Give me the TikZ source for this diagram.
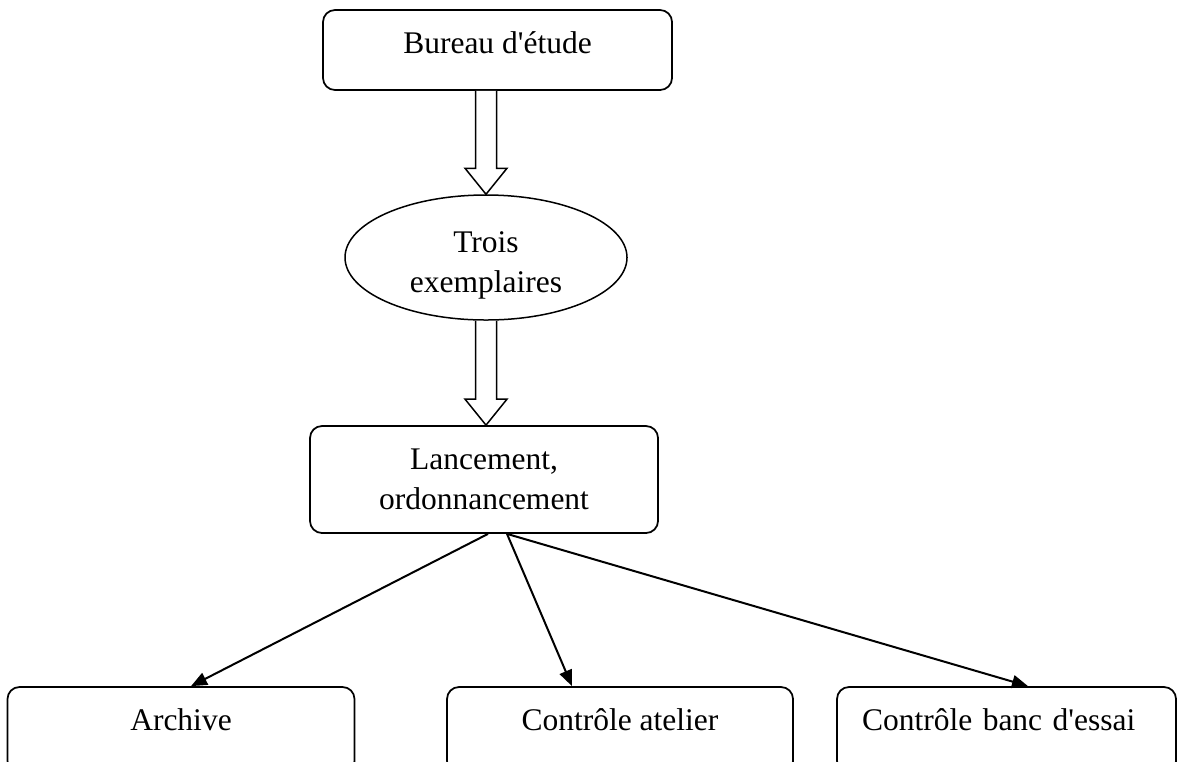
\documentclass[tikz,border=0pt]{standalone}
\usepackage{fontspec}
\setmainfont{Liberation Serif}
\usetikzlibrary{arrows.meta, shapes.geometric, calc, positioning}
\definecolor{LineColor}{RGB}{0,0,0}
\tikzset{
  stage/.style={draw=LineColor, line width=0.7pt, rounded corners=4.8pt, fill=white, align=center},
  oval/.style={ellipse, draw=LineColor, line width=0.6pt, inner sep=0pt, minimum width=112.8pt, minimum height=50pt},
  txt/.style={align=center, inner sep=0pt},
  sink/.style={stage, minimum height=34.4pt, text height=8.6pt, text depth=8.6pt},
  link/.style={line width=0.8pt, draw=LineColor, -{Triangle[length=6.4pt, width=5.2pt]}},
  hollow/.style={draw=LineColor, line width=0.6pt, fill=white, line join=miter}
}
% hollow block arrow between two points
\newcommand{\blockarrow}[2]{%
  \draw[hollow] ($(#1)+(-10.5,0)$) -- ($(#2)+(-10.5,-26)$) -- ($(#2)+(-21,-26)$)
    -- (#2) -- ($(#2)+(21,-26)$) -- ($(#2)+(10.5,-26)$) -- ($(#1)+(10.5,0)$);
}
\begin{document}
\begin{tikzpicture}[x=0.4pt, y=-0.4pt, font=\fontsize{12.6}{16}\selectfont]
  \useasboundingbox (0,0) rectangle (1177,761);
  \clip (0,0) rectangle (1177,761);

  % Design office
  \node[stage, minimum width=139.6pt, minimum height=32pt, text height=8.6pt, text depth=6.2pt] (bureau) at (497.5,50) {Bureau d\textquotesingle étude};

  % Copies
  \node[oval] (trois) at (486,257.5) {};
  \node[txt, anchor=north] (troistxt) at (486,231.5) {Trois\\exemplaires};

  % Scheduling
  \node[stage, minimum width=139.2pt, minimum height=42.8pt] (lanc) at (484,479.5) {Lancement,\\ordonnancement};

  % Block arrows
  \blockarrow{trois.north |- bureau.south}{trois.north}
  \blockarrow{trois.south}{trois.south |- lanc.north}

  % Destinations
  \node[sink, minimum width=138.8pt] (archive) at (181,730) {Archive};
  \node[sink, minimum width=138.4pt] (atelier) at (620,730) {Contrôle atelier};
  \node[sink, minimum width=135.6pt, inner xsep=10pt, text width=115.6pt, align=left] (banc) at (1006.5,730) {Contrôle banc d\textquotesingle essai};

  % Distribution
  \draw[link] ([xshift=1.6pt]lanc.south) -- ([xshift=4pt]archive.north);
  \draw[link] ([xshift=9.2pt]lanc.south) -- ([xshift=-19.2pt]atelier.north);
  \draw[link] ([xshift=9.2pt]lanc.south) -- ([xshift=8.6pt]banc.north);
\end{tikzpicture}
\end{document}
